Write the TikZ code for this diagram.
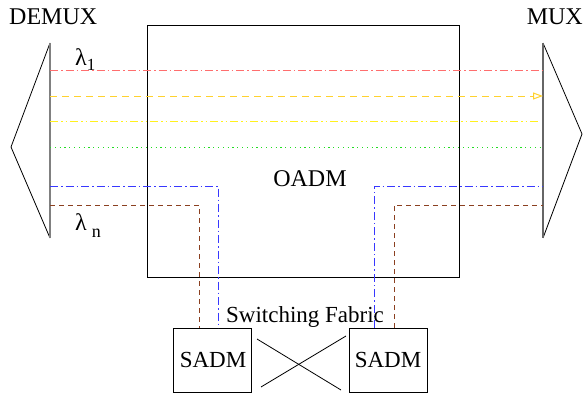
\documentclass[tikz,border=0pt]{standalone}
\usepackage{fontspec}
\setmainfont{Liberation Serif}
\usetikzlibrary{arrows.meta}
\definecolor{cred}{HTML}{FF6E6E}
\definecolor{cgold}{HTML}{FFD22E}
\definecolor{cyel}{HTML}{FFF01E}
\definecolor{cgreen}{HTML}{22DD22}
\definecolor{cblue}{HTML}{3838FF}
\definecolor{cbrown}{HTML}{8B4020}
\tikzset{
  lbl/.style={inner sep=0pt, font=\fontsize{24}{28}\selectfont},
  sm/.style={inner sep=0pt, font=\fontsize{23}{27}\selectfont},
  box/.style={draw=black, line width=0.9pt, minimum width=78pt, minimum height=64pt, inner sep=0pt},
  chan/.style={line width=1pt},
  redl/.style={chan, cred, dash pattern=on 8pt off 3pt on 1.5pt off 3pt},
  goldl/.style={chan, cgold, dash pattern=on 7pt off 5pt},
  yell/.style={chan, cyel, dash pattern=on 8pt off 3pt on 1.5pt off 3pt on 1.5pt off 3pt},
  greenl/.style={chan, cgreen, dash pattern=on 1.2pt off 3.6pt},
  bluel/.style={chan, cblue, dash pattern=on 8pt off 3pt on 1.5pt off 3pt},
  brownl/.style={chan, cbrown, dash pattern=on 5pt off 4pt},
}
\begin{document}
\begin{tikzpicture}[x=1pt,y=-1pt]
\useasboundingbox (0,0) rectangle (585,396);
% OADM box
\draw[line width=0.9pt] (147,25) rectangle (459,277);
% DEMUX / MUX triangles
\coordinate (dt) at (50,43); \coordinate (db) at (50,238); \coordinate (da) at (11,147);
\coordinate (mt) at (543,43); \coordinate (mb) at (543,238); \coordinate (ma) at (582,134);
\draw[line width=0.8pt] (dt) -- (da) -- (db);
\draw[line width=1.6pt, gray] (dt) -- (db);
\draw[line width=0.8pt] (mt) -- (ma) -- (mb);
\draw[line width=1.6pt, gray!80!black] (mt) -- (mb);
% channels
\coordinate (r1) at (50,70);  \coordinate (r2) at (543,70);
\coordinate (g1) at (50,96);  \coordinate (g2) at (543,96);
\coordinate (y1) at (50,121); \coordinate (y2) at (540,121);
\coordinate (e1) at (50,147); \coordinate (e2) at (541,147);
\draw[redl] (r1) -- (r2);
\draw[goldl, -{Triangle[open, length=10pt, width=7pt]}] (g1) -- (g2);
\draw[yell] (y1) -- (y2);
\draw[greenl] (e1) -- (e2);
% SADM nodes
\node[box] (sl) at (212,360) {};
\node[box] (sr) at (388,360) {};
\node[sm, anchor=base] at (213,367) {SADM};
\node[sm, anchor=base] at (388,367) {SADM};
% drop/add paths
\coordinate (bl0) at (50,186); \coordinate (bl1) at (218,186); \coordinate (bl2) at (218,328);
\coordinate (br0) at (543,186); \coordinate (br1) at (374,186); \coordinate (br2) at (374,328);
\coordinate (wl0) at (50,205); \coordinate (wl1) at (199,205); \coordinate (wl2) at (199,328);
\coordinate (wr0) at (543,205); \coordinate (wr1) at (394,205); \coordinate (wr2) at (394,328);
\draw[bluel] (bl0) -- (bl1) -- (bl2);
\draw[bluel] (br2) -- (br1) -- (br0);
\draw[brownl] (wl0) -- (wl1) -- (wl2);
\draw[brownl] (wr2) -- (wr1) -- (wr0);
% switching fabric cross
\coordinate (c1) at (257,339); \coordinate (c2) at (341,390);
\coordinate (c3) at (261,387); \coordinate (c4) at (346,336);
\draw[line width=0.8pt] (c1) -- (c2);
\draw[line width=0.8pt] (c3) -- (c4);
% labels
\node[lbl, anchor=base west] (demux) at (9,25) {DEMUX};
\node[lbl, anchor=base east] (mux) at (583,25) {MUX};
\node[lbl, anchor=base] (oadm) at (310,186) {OADM};
\node[sm, anchor=base] (sf) at (305,322) {Switching Fabric};
\node[lbl, anchor=base west] (l1) at (75,65) {λ\raisebox{-5pt}{\fontsize{17}{20}\selectfont 1}};
\node[lbl, anchor=base west] (ln) at (75,230) {λ\hspace{5pt}\raisebox{-7pt}{\fontsize{18}{20}\selectfont n}};
\end{tikzpicture}
\end{document}
